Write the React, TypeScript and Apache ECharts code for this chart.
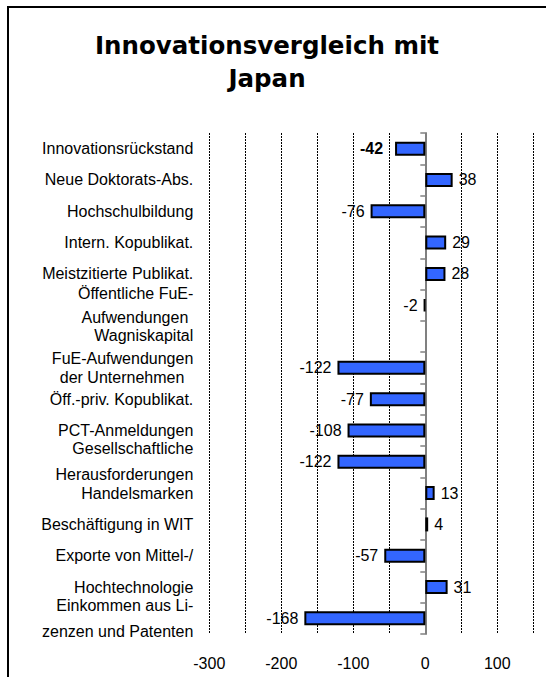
import React, { useEffect, useRef } from "react";
import * as echarts from "echarts";

const categories = [
  "Innovationsrückstand",
  "Neue Doktorats-Abs.",
  "Hochschulbildung",
  "Intern. Kopublikat.",
  "Meistzitierte Publikat.",
  "Öffentliche FuE-\nAufwendungen",
  "Wagniskapital\nFuE-Aufwendungen",
  "der Unternehmen",
  "Öff.-priv. Kopublikat.",
  "PCT-Anmeldungen",
  "Gesellschaftliche\nHerausforderungen",
  "Handelsmarken",
  "Beschäftigung in WIT",
  "Exporte von Mittel-/",
  "Hochtechnologie",
  "Einkommen aus Li-\nzenzen und Patenten",
];

const values: (number | null)[] = [
  -42, 38, -76, 29, 28, -2, null, -122, -77, -108, -122, 13, 4, -57, 31, -168,
];

const boldIndex = 0;
const titleText = "Innovationsvergleich mit\nJapan";

export default function App() {
  const ref = useRef<HTMLDivElement>(null);
  useEffect(() => {
    if (!ref.current) return;
    const chart = echarts.init(ref.current, undefined, { renderer: "svg" });
    const font = "'Liberation Sans', Arial, sans-serif";
    const labelFormatter = (value: string, index: number) => {
      const lines = value.split("\n");
      if (index === 6) {
        return "{gap20|}\n" + lines.map((l) => "{d|" + l + "}").join("\n");
      }
      if (index === 7) {
        return "{gap20|}\n" + lines.map((l) => "{b|" + l + "}").join("\n");
      }
      if (index === 5) {
        return "{e|" + lines[0] + "}\n{c|" + lines[1] + "}";
      }
      return lines.map((l) => "{a|" + l + "}").join("\n");
    };
    const seriesData = values.map((v, i) => {
      if (v == null) return { value: null };
      return {
        value: v,
        label: {
          position: v < 0 ? "left" : "right",
          distance: i === boldIndex ? 12 : 6,
          fontWeight: i === boldIndex ? "bold" : "normal",
        },
      };
    });
    const textBase = { fontFamily: font, fontSize: 16, color: "#000" };
    chart.setOption({
      animation: false,
      backgroundColor: "#fff",
      title: {
        text: titleText,
        left: 267,
        top: 29,
        padding: 0,
        textAlign: "center",
        textStyle: {
          fontFamily: "'DejaVu Sans', Verdana, sans-serif",
          fontWeight: "bold",
          fontSize: 24.5,
          lineHeight: 33,
          color: "#000",
        },
      },
      graphic: [
        {
          type: "rect",
          shape: { x: 8, y: 7, width: 700, height: 800 },
          style: { fill: "none", stroke: "#000", lineWidth: 2 },
          silent: true,
        },
      ],
      grid: {
        left: 209.3,
        right: 12.7,
        top: 133,
        bottom: 43,
        containLabel: false,
        outerBoundsMode: "none",
      },
      xAxis: {
        type: "value",
        min: -300,
        max: 150,
        interval: 50,
        axisLine: { show: false },
        axisTick: { show: false },
        splitLine: {
          show: true,
          lineStyle: { color: "#000", width: 1, type: [2, 1] },
        },
        axisLabel: {
          formatter: (v: number) => (v % 100 === 0 ? String(v) : ""),
          fontFamily: font,
          fontSize: 16,
          color: "#000",
          margin: 21,
        },
      },
      yAxis: [
        {
          type: "category",
          data: categories,
          inverse: true,
          position: "left",
          axisLine: { show: false, onZero: false },
          axisTick: { show: false },
          splitLine: { show: false },
          axisLabel: {
            margin: 16,
            fontFamily: font,
            fontSize: 16,
            color: "#000",
            interval: 0,
            formatter: labelFormatter,
            rich: {
              a: { ...textBase, lineHeight: 26 },
              b: { ...textBase, lineHeight: 20, padding: [0, 9, 0, 0] },
              c: { ...textBase, lineHeight: 24, padding: [0, 5, 0, 0] },
              d: { ...textBase, lineHeight: 23 },
              e: { ...textBase, lineHeight: 24 },
              gap20: { lineHeight: 20, fontSize: 1 },
            },
          },
        },
        {
          type: "category",
          data: categories,
          inverse: true,
          position: "left",
          axisLine: {
            show: true,
            onZero: true,
            lineStyle: { color: "#808080", width: 2 },
          },
          axisTick: { show: true, length: 5, lineStyle: { color: "#808080", width: 1.5 } },
          splitLine: { show: false },
          axisLabel: { show: false },
        },
      ],
      series: [
        {
          type: "bar",
          data: seriesData,
          barWidth: 14,
          yAxisIndex: 0,
          itemStyle: { color: "#3366ff", borderColor: "#000", borderWidth: 2 },
          label: {
            show: true,
            fontFamily: font,
            fontSize: 16,
            color: "#000",
          },
        },
      ],
    });
    return () => chart.dispose();
  }, []);
  return (
    <div
      ref={ref}
      style={{ position: "absolute", left: 0, top: 0, width: 546, height: 677 }}
    />
  );
}
